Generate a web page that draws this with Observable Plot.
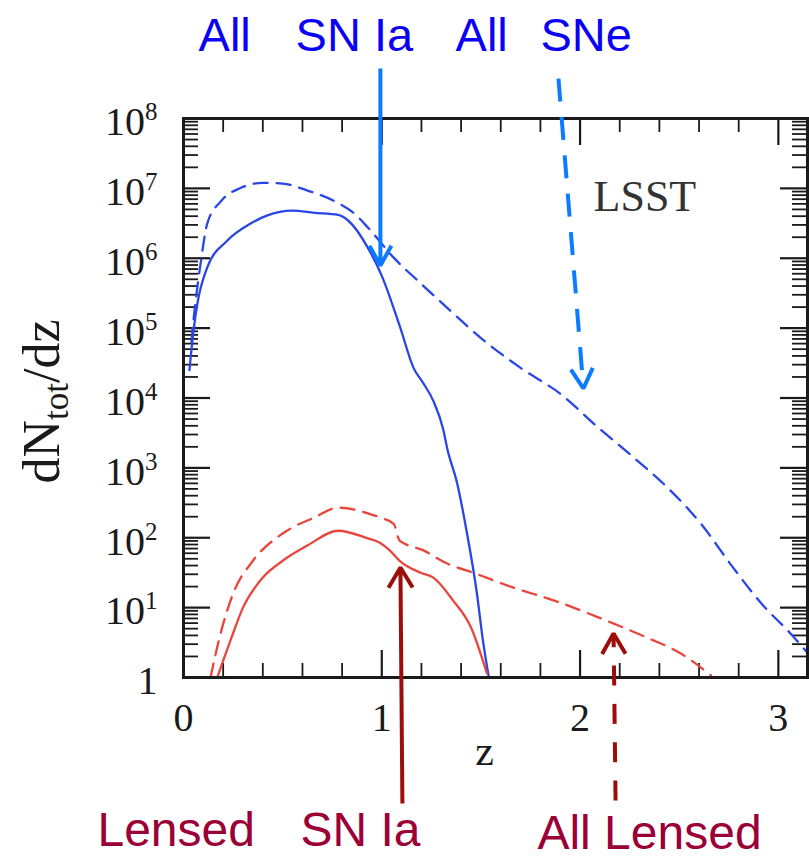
<!DOCTYPE html>
<html>
<head>
<meta charset="utf-8">
<script src="https://cdn.jsdelivr.net/npm/d3@7"></script>
<script src="https://cdn.jsdelivr.net/npm/@observablehq/plot@0.6"></script>
<style>
html, body { margin: 0; padding: 0; background: #fff; }
#chart { width: 809px; height: 860px; }
</style>
</head>
<body>
<div id="chart"></div>
<script>
// ---- Data ----
// All SN Ia (solid blue)
const zAllSNIa = [0.03, 0.05, 0.07, 0.12, 0.22, 0.34, 0.42, 0.55, 0.66, 0.78, 0.83, 0.93, 1.0, 1.094, 1.16, 1.21, 1.26, 1.31, 1.33, 1.38, 1.43, 1.48, 1.51, 1.54];
const nAllSNIa = [2.5e4, 8.9e4, 2.24e5, 7.4e5, 1.78e6, 3.16e6, 4.07e6, 4.79e6, 4.47e6, 4.17e6, 3.47e6, 1.41e6, 5.6e5, 1.0e5, 2.7e4, 1.62e4, 9.1e3, 3.55e3, 1.9e3, 603, 115, 15.8, 3.4, 1.0];
// All SNe (dashed blue)
const zAllSNe = [0.04, 0.05, 0.076, 0.086, 0.12, 0.19, 0.29, 0.40, 0.50, 0.625, 0.76, 0.86, 0.93, 1.06, 1.195, 1.33, 1.50, 1.70, 1.90, 2.09, 2.27, 2.44, 2.61, 2.77, 2.92, 3.06, 3.15];
const nAllSNe = [6.3e4, 1.26e5, 5.25e5, 8.3e5, 3.16e6, 6.6e6, 1.02e7, 1.2e7, 1.17e7, 9.3e6, 6.6e6, 4.4e6, 2.75e6, 1.02e6, 4.4e5, 1.95e5, 7.2e4, 2.7e4, 1.15e4, 3.8e3, 1.41e3, 525, 158, 38, 11, 4.3, 2.2];
// Lensed SN Ia (solid red)
const zLensedSNIa = [0.17, 0.237, 0.30, 0.40, 0.50, 0.625, 0.78, 0.93, 0.99, 1.04, 1.09, 1.195, 1.26, 1.36, 1.45, 1.53];
const nLensedSNIa = [1, 3.4, 10, 26.9, 46.8, 77.6, 126, 98, 85, 66, 46.8, 31.6, 26.9, 12.6, 5.2, 1.15];
// All Lensed (dashed red)
const zAllLensed = [0.136, 0.187, 0.25, 0.35, 0.50, 0.66, 0.78, 0.93, 0.99, 1.06, 1.09, 1.21, 1.33, 1.46, 1.66, 1.87, 2.04, 2.17, 2.34, 2.51, 2.66];
const nAllLensed = [1, 4.27, 15.8, 46.8, 115, 195, 269, 224, 195, 158, 91, 66, 42.7, 31.6, 19.5, 12.6, 8.3, 5.9, 3.7, 2.19, 1.07];

// ---- Ticks ----
const xMajor = [0, 1, 2, 3];
const xMinor = [0.2, 0.4, 0.6, 0.8, 1.2, 1.4, 1.6, 1.8, 2.2, 2.4, 2.6, 2.8];
const yMajor = [1, 1e1, 1e2, 1e3, 1e4, 1e5, 1e6, 1e7, 1e8];
const yMinorMantissa = [2, 3, 4, 5, 6, 7, 8, 9];
const yMinor = yMajor.slice(0, -1).flatMap(p => yMinorMantissa.map(m => m * p));

// ---- Annotations ----
const panelLabel = "LSST";
const panelLabelZ = [2.068];
const panelLabelN = [4.82e6];
const xTitle = "z";
const xTitleZ = [1.518];
const xTitleN = [0.0551];
const yTitle = "dN_tot/dz";
const yTitleZ = [-0.63];
const yTitleN = [8913];
const topLabels = ["All", "SN Ia", "All", "SNe"];
const topLabelZ = [0.076, 0.565, 1.372, 1.80];
const topLabelN = [9.3e8, 9.3e8, 9.3e8, 9.3e8];
const bottomLabels = ["Lensed", "SN Ia", "All Lensed"];
const bottomLabelZ = [-0.434, 0.59, 1.785];
const bottomLabelN = [3.82e-3, 3.82e-3, 3.46e-3];
// arrows: start (z1,n1) -> tip (z2,n2)
const arrowBlueSolid = [{z1: 0.993, n1: 5.2e8, z2: 0.993, n2: 7.87e5}];
const arrowBlueDashed = [{z1: 1.891, n1: 3.73e8, z2: 2.017, n2: 1.37e4}];
const arrowRedSolid = [{z1: 1.104, n1: 0.0157, z2: 1.094, n2: 37.5}];
const arrowRedDashed = [{z1: 2.179, n1: 0.01738, z2: 2.169, n2: 4.26}];

const toRows = (zs, ns) => zs.map((z, i) => ({z, n: ns[i]}));
const rows = (zs, ns, texts) => zs.map((z, i) => ({z, n: ns[i], t: texts ? texts[i] : undefined}));

const BLUE = "#2b46e6", RED = "#e8463c";
const ABLUE = "#0b7cff", ARED = "#9a0f0a";
const TBLUE = "#0a00f5", TRED = "#9b0036";
const INK = "#1a1a1a";

const yFmt = d => d === 1 ? "1" : "10^" + Math.round(Math.log10(d));

const plot = Plot.plot({
  width: 809,
  height: 860,
  marginLeft: 183,
  marginRight: 2,
  marginTop: 118,
  marginBottom: 183,
  style: {fontFamily: "'Liberation Serif', 'Times New Roman', serif", fontSize: "40px", background: "white", color: INK},
  x: {domain: [0, 3.147], label: null},
  y: {type: "log", domain: [1, 1e8], label: null},
  marks: [
    // inward ticks: left / right
    Plot.tickY(yMajor, {y: d => d, insetRight: 597, stroke: INK, strokeWidth: 2.2}),
    Plot.tickY(yMajor, {y: d => d, insetLeft: 597, stroke: INK, strokeWidth: 2.2}),
    Plot.tickY(yMinor, {y: d => d, insetRight: 609, stroke: INK, strokeWidth: 1.8}),
    Plot.tickY(yMinor, {y: d => d, insetLeft: 609, stroke: INK, strokeWidth: 1.8}),
    // inward ticks: bottom / top
    Plot.tickX(xMajor, {x: d => d, insetTop: 532, stroke: INK, strokeWidth: 2.2}),
    Plot.tickX(xMajor, {x: d => d, insetBottom: 532, stroke: INK, strokeWidth: 2.2}),
    Plot.tickX(xMinor, {x: d => d, insetTop: 545, stroke: INK, strokeWidth: 1.8}),
    Plot.tickX(xMinor, {x: d => d, insetBottom: 545, stroke: INK, strokeWidth: 1.8}),
    // curves
    Plot.line(toRows(zAllSNe, nAllSNe), {x: "z", y: "n", stroke: BLUE, strokeWidth: 2.3, strokeDasharray: "14,9", curve: "monotone-x", clip: true}),
    Plot.line(toRows(zAllSNIa, nAllSNIa), {x: "z", y: "n", stroke: BLUE, strokeWidth: 2.3, curve: "monotone-x", clip: true}),
    Plot.line(toRows(zAllLensed, nAllLensed), {x: "z", y: "n", stroke: RED, strokeWidth: 2.3, strokeDasharray: "14,9", curve: "monotone-x", clip: true}),
    Plot.line(toRows(zLensedSNIa, nLensedSNIa), {x: "z", y: "n", stroke: RED, strokeWidth: 2.3, curve: "monotone-x", clip: true}),
    // axes (labels only)
    Plot.axisY({ticks: yMajor, tickSize: 0, tickPadding: 26, tickFormat: yFmt, dy: 4}),
    Plot.axisX({ticks: xMajor, tickSize: 0, tickPadding: 25, tickFormat: d => String(d)}),
    Plot.frame({stroke: INK, strokeWidth: 3}),
    // texts in panel
    Plot.text(rows(panelLabelZ, panelLabelN, [panelLabel]), {x: "z", y: "n", text: "t", textAnchor: "start", lineAnchor: "bottom", fontSize: 44, fill: "#333"}),
    Plot.text(rows(xTitleZ, xTitleN, [xTitle]), {x: "z", y: "n", text: "t", textAnchor: "middle", lineAnchor: "bottom", fontSize: 42, fill: INK}),
    Plot.text(rows(yTitleZ, yTitleN, [yTitle]), {x: "z", y: "n", text: "t", textAnchor: "middle", lineAnchor: "bottom", rotate: -90, fontSize: 52, fill: INK}),
    // annotation arrows
    Plot.arrow(arrowBlueSolid, {x1: "z1", y1: "n1", x2: "z2", y2: "n2", stroke: ABLUE, strokeWidth: 4, headAngle: 58, headLength: 8.5, strokeLinecap: "butt", strokeLinejoin: "miter"}),
    Plot.arrow(arrowRedSolid, {x1: "z1", y1: "n1", x2: "z2", y2: "n2", stroke: ARED, strokeWidth: 4, headAngle: 62, headLength: 8.8, strokeLinecap: "butt", strokeLinejoin: "miter"}),
    Plot.link(arrowBlueDashed, {x1: "z1", y1: "n1", x2: "z2", y2: "n2", stroke: ABLUE, strokeWidth: 4, strokeDasharray: "23,15.5", strokeLinecap: "butt"}),
    Plot.arrow(arrowBlueDashed, {x1: "z1", y1: "n1", x2: "z2", y2: "n2", stroke: ABLUE, strokeWidth: 4, headAngle: 58, headLength: 8.5, insetStart: 308, strokeLinecap: "butt", strokeLinejoin: "miter"}),
    Plot.link(arrowRedDashed, {x1: "z1", y1: "n1", x2: "z2", y2: "n2", stroke: ARED, strokeWidth: 4, strokeDasharray: "20,18.3", strokeLinecap: "butt"}),
    Plot.arrow(arrowRedDashed, {x1: "z1", y1: "n1", x2: "z2", y2: "n2", stroke: ARED, strokeWidth: 4, headAngle: 60, headLength: 8.8, insetStart: 164, strokeLinecap: "butt", strokeLinejoin: "miter"}),
    // annotation labels
    Plot.text(rows(topLabelZ, topLabelN, topLabels), {x: "z", y: "n", text: "t", textAnchor: "start", lineAnchor: "bottom", fontSize: 47, fontFamily: "'Liberation Sans', Arial, sans-serif", fill: TBLUE}),
    Plot.text(rows(bottomLabelZ, bottomLabelN, bottomLabels), {x: "z", y: "n", text: "t", textAnchor: "start", lineAnchor: "bottom", fontSize: 48, fontFamily: "'Liberation Sans', Arial, sans-serif", fill: TRED})
  ]
});

// superscripts / subscripts as real text
d3.select(plot).selectAll("text").each(function () {
  const s = this.textContent;
  const t = d3.select(this);
  const m = s.match(/^10\^(\d+)$/);
  if (m) {
    t.text("");
    t.append("tspan").text("10");
    t.append("tspan").attr("dy", -15).attr("font-size", 25).text(m[1]);
  } else if (s === "dN_tot/dz") {
    t.text("");
    t.append("tspan").text("dN");
    t.append("tspan").attr("dy", 9).attr("font-size", 35).text("tot");
    t.append("tspan").attr("dy", -9).text("/dz");
  }
});

document.getElementById("chart").appendChild(plot);
</script>
</body>
</html>
